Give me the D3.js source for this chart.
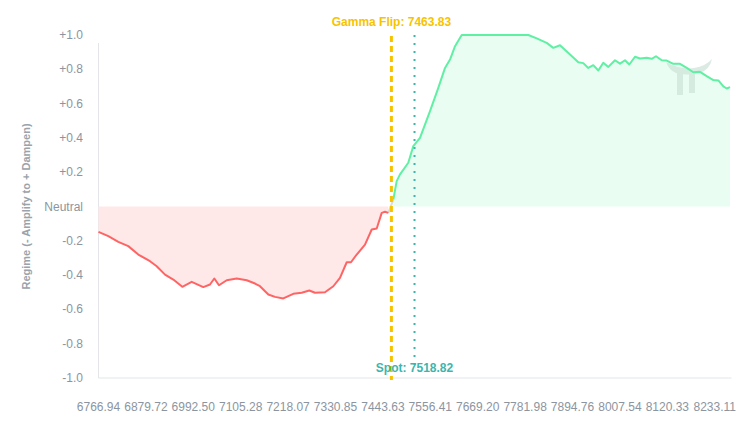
<!DOCTYPE html>
<html>
<head>
<meta charset="utf-8">
<script src="https://cdn.jsdelivr.net/npm/d3@7"></script>
<style>
  body { margin: 0; background: #fff; }
  svg { font-family: "Liberation Sans", Arial, sans-serif; }
</style>
</head>
<body>
<svg width="745" height="432"></svg>
<script>
let width = 745, height = 432;
let margin = {top: 35, right: 13.5, bottom: 54, left: 98.5};

// price levels (x) and regime values (y)
let negPrices = [6766.9, 6790.3, 6814.1, 6837.8, 6861.6, 6889.5, 6905.4, 6925.2, 6944.9, 6966.3,
  6988.7, 7016.3, 7032.2, 7042.5, 7053.6, 7072.0, 7095.8, 7119.6, 7139.3, 7151.2,
  7171.0, 7186.9, 7206.6, 7230.4, 7250.4, 7268.5, 7282.1, 7305.8, 7325.6, 7341.5,
  7357.5, 7367.7, 7381.3, 7401.0, 7417.0, 7428.9, 7440.8, 7448.6, 7456.5];
let negValues = [-0.148, -0.173, -0.206, -0.231, -0.28, -0.319, -0.348, -0.397, -0.426, -0.468,
  -0.439, -0.47, -0.455, -0.42, -0.459, -0.43, -0.42, -0.43, -0.449, -0.465,
  -0.513, -0.527, -0.536, -0.509, -0.503, -0.49, -0.503, -0.5, -0.465, -0.416,
  -0.325, -0.325, -0.28, -0.222, -0.134, -0.128, -0.037, -0.031, -0.037];

let posPrices = [7468.4, 7476.4, 7484.3, 7504.0, 7515.9, 7531.9, 7555.7, 7575.4, 7591.4, 7603.3,
  7615.2, 7631.1, 7789.6, 7809.6, 7833.3, 7849.0, 7865.0, 7888.8, 7908.5, 7920.4,
  7932.3, 7944.2, 7956.1, 7968.0, 7979.9, 7995.8, 8007.7, 8019.6, 8029.9, 8043.4,
  8055.3, 8071.3, 8083.2, 8093.4, 8107.0, 8118.9, 8134.6, 8150.5, 8166.5, 8182.2,
  8198.1, 8214.0, 8229.8, 8241.7, 8253.6, 8261.6, 8269.5];
let posValues = [0.04, 0.148, 0.187, 0.255, 0.352, 0.40, 0.556, 0.692, 0.808, 0.857,
  0.935, 1.0, 1.0, 0.98, 0.954, 0.925, 0.94, 0.886, 0.841, 0.836,
  0.808, 0.824, 0.793, 0.838, 0.814, 0.853, 0.833, 0.853, 0.828, 0.873,
  0.863, 0.867, 0.861, 0.876, 0.853, 0.851, 0.832, 0.832, 0.808, 0.783,
  0.785, 0.76, 0.737, 0.735, 0.70, 0.688, 0.696];

let xTickValues = [6766.94, 6879.72, 6992.50, 7105.28, 7218.07, 7330.85, 7443.63,
  7556.41, 7669.20, 7781.98, 7894.76, 8007.54, 8120.33, 8233.11];
let yTickValues = [1.0, 0.8, 0.6, 0.4, 0.2, 0, -0.2, -0.4, -0.6, -0.8, -1.0];

let gammaFlip = 7463.83;
let spot = 7518.82;

let svg = d3.select("svg");

let x = d3.scaleLinear()
    .domain([6766.94, 8273.0])
    .range([margin.left, width - margin.right]);
let y = d3.scaleLinear()
    .domain([-1, 1])
    .range([height - margin.bottom, margin.top]);

let neg = negPrices.map((p, i) => ({p: p, v: negValues[i]}));
let pos = posPrices.map((p, i) => ({p: p, v: posValues[i]}));

// axes lines
svg.append("line")
    .attr("x1", x.range()[0]).attr("x2", x.range()[0])
    .attr("y1", y(1) + 8).attr("y2", y(-1))
    .attr("stroke", "#e3e5e8");
svg.append("line")
    .attr("x1", x.range()[0]).attr("x2", x.range()[1])
    .attr("y1", y(-1)).attr("y2", y(-1))
    .attr("stroke", "#e3e5e8");

// fills
let area = d3.area().x(d => x(d.p)).y0(y(0)).y1(d => y(d.v));
svg.append("path").datum(neg)
    .attr("d", area)
    .attr("fill", "#ffe8e8");
svg.append("path").datum(pos)
    .attr("d", area)
    .attr("fill", "#e9fdf2");

// watermark logo
let wm = svg.append("g")
    .attr("transform", "translate(688,68)")
    .attr("fill", "#cfe5da").attr("opacity", 0.75);
wm.append("path").attr("d", "M-22,-6 Q-8,2 6,0 Q18,-2 24,-9 Q22,1 12,5 Q0,8 -12,5 Q-19,2 -22,-6 Z");
wm.append("rect").attr("x", -11).attr("y", 3).attr("width", 6).attr("height", 24);
wm.append("rect").attr("x", 1).attr("y", 3).attr("width", 6).attr("height", 22);

// lines
let line = d3.line().x(d => x(d.p)).y(d => y(d.v));
svg.append("path").datum([neg[neg.length - 1], pos[0]])
    .attr("d", line)
    .attr("fill", "none")
    .attr("stroke", "#d9dcdc")
    .attr("stroke-width", 2);
svg.append("path").datum(neg)
    .attr("d", line)
    .attr("fill", "none")
    .attr("stroke", "#ff6464")
    .attr("stroke-width", 2)
    .attr("stroke-linejoin", "round");
svg.append("path").datum(pos)
    .attr("d", line)
    .attr("fill", "none")
    .attr("stroke", "#5ff0a4")
    .attr("stroke-width", 2)
    .attr("stroke-linejoin", "round");

// gamma flip and spot markers
svg.append("line")
    .attr("x1", x(gammaFlip)).attr("x2", x(gammaFlip))
    .attr("y1", y(1) + 1).attr("y2", y(-1) + 2)
    .attr("stroke", "#f7c300")
    .attr("stroke-width", 3)
    .attr("stroke-dasharray", "6,4");
svg.append("text")
    .attr("x", x(gammaFlip)).attr("y", 26)
    .attr("text-anchor", "middle")
    .attr("font-size", 12).attr("font-weight", "bold")
    .attr("fill", "#f7c300")
    .text("Gamma Flip: " + gammaFlip.toFixed(2));

svg.append("line")
    .attr("x1", x(spot)).attr("x2", x(spot))
    .attr("y1", y(1)).attr("y2", y(-1) - 12)
    .attr("stroke", "#3db5ad")
    .attr("stroke-width", 2)
    .attr("stroke-dasharray", "2,6");
svg.append("text")
    .attr("x", x(spot)).attr("y", 372)
    .attr("text-anchor", "middle")
    .attr("font-size", 12).attr("font-weight", "bold")
    .attr("fill", "#3db5ad")
    .text("Spot: " + spot.toFixed(2));

// y tick labels
svg.append("g").selectAll("text")
    .data(yTickValues)
    .enter()
    .append("text")
    .attr("x", 83)
    .attr("y", d => y(d) + 4)
    .attr("text-anchor", "end")
    .attr("font-size", 12)
    .attr("fill", "#8c959f")
    .text(d => d == 0 ? "Neutral" : (d > 0 ? "+" : "") + d.toFixed(1));

// x tick labels
svg.append("g").selectAll("text")
    .data(xTickValues)
    .enter()
    .append("text")
    .attr("x", d => x(d))
    .attr("y", 411)
    .attr("text-anchor", "middle")
    .attr("font-size", 12)
    .attr("fill", "#8c959f")
    .text(d => d.toFixed(2));

// y title
svg.append("text")
    .attr("transform", "translate(30," + y(0) + ") rotate(-90)")
    .attr("text-anchor", "middle")
    .attr("font-size", 11).attr("font-weight", "bold")
    .attr("fill", "#9aa3ab")
    .text("Regime (- Amplify to + Dampen)");
</script>
</body>
</html>
